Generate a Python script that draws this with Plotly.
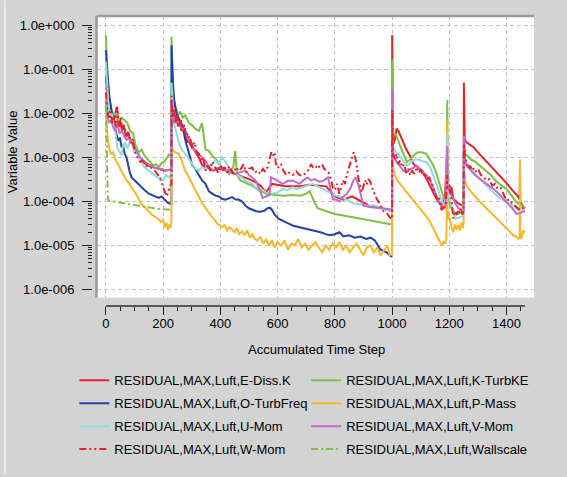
import plotly.graph_objects as go

# ---------------------------------------------------------------------------
# Residual history data: (accumulated time step, residual value)
# ---------------------------------------------------------------------------
E_DISS_K = [
    (0, 7e-2), (3, 3e-2), (8, 1.2e-2), (14, 8e-3), (20, 1.1e-2), (26, 6e-3), (32, 9e-3),
    (38, 1.4e-2), (44, 5e-3), (50, 7e-3), (56, 4e-3), (62, 5.5e-3), (70, 3e-3), (78, 3.8e-3),
    (86, 2.2e-3), (94, 2.6e-3), (102, 1.6e-3), (112, 1.2e-3), (122, 9e-4), (134, 7.5e-4),
    (148, 6.5e-4), (165, 6e-4), (185, 5.5e-4), (205, 5e-4), (220, 5.2e-4), (228, 5.5e-4),
    (229, 5.5e-4), (229.5, 3e-2), (234, 1.2e-2), (240, 6e-3), (246, 9e-3), (252, 5e-3),
    (258, 7e-3), (264, 4e-3), (270, 5e-3), (278, 3e-3), (286, 2.2e-3), (295, 2.6e-3),
    (305, 1.6e-3), (315, 1.3e-3), (325, 1e-3), (335, 7e-4), (348, 5.5e-4), (360, 6e-4),
    (375, 5e-4), (390, 5.5e-4), (405, 5.5e-4), (420, 5e-4), (440, 4.5e-4), (460, 4e-4),
    (480, 3.6e-4), (500, 3.2e-4), (520, 2.8e-4), (540, 2.3e-4), (560, 1.6e-4), (580, 2.5e-4),
    (600, 2.4e-4), (625, 2.2e-4), (650, 2.2e-4), (680, 2.2e-4), (710, 2.4e-4), (740, 2.3e-4),
    (770, 2.2e-4), (800, 1.3e-4), (830, 1.1e-4), (860, 1.3e-4), (890, 1e-4), (920, 8e-5),
    (950, 7.5e-5), (980, 6.5e-5), (999, 6e-5),
    (1000, 6e-5), (1000.5, 6e-1), (1004, 2e-3), (1010, 2.5e-3), (1016, 4.5e-3), (1022, 4e-3),
    (1030, 3e-3), (1040, 2e-3), (1050, 1.5e-3), (1062, 1.1e-3), (1075, 7e-4), (1090, 6e-4),
    (1105, 5e-4), (1121, 3.2e-4), (1135, 2.2e-4), (1144, 1.6e-4), (1161, 1e-4), (1173, 8e-5),
    (1185, 1.4e-4), (1193, 1.5e-3), (1194, 2.5e-4), (1200, 2.3e-4), (1208, 2e-4),
    (1214, 1.15e-4), (1231, 9e-5), (1246, 8e-5), (1250, 7e-5),
    (1251, 5e-2), (1251.5, 3e-3), (1254, 2.5e-3), (1260, 2.2e-3), (1270, 2e-3), (1285, 1.7e-3),
    (1300, 1.3e-3), (1320, 9.5e-4), (1340, 7e-4), (1360, 5e-4), (1380, 3.6e-4), (1400, 2.6e-4),
    (1420, 1.8e-4), (1440, 1.3e-4), (1446, 1.1e-4), (1447, 7e-4), (1448, 1e-4), (1455, 8e-5),
    (1465, 7e-5),
]

K_TURBKE = [
    (0, 6e-1), (2, 3e-1), (6, 6e-2), (12, 2e-2), (20, 1.2e-2), (28, 9e-3), (36, 1e-2),
    (45, 7e-3), (55, 8e-3), (65, 7e-3), (75, 6e-3), (85, 4e-3), (95, 3.5e-3), (105, 1.8e-3),
    (115, 1.3e-3), (125, 1.5e-3), (135, 1.1e-3), (145, 9e-4), (155, 8e-4), (165, 6.5e-4),
    (175, 7e-4), (185, 6e-4), (195, 7.5e-4), (205, 8e-4), (215, 1e-3), (222, 1.2e-3), (228, 1e-3),
    (229, 1e-3), (229.5, 5.5e-1), (232, 8e-2), (238, 2e-2), (245, 1.3e-2), (252, 9e-3),
    (260, 1.1e-2), (268, 8e-3), (278, 9e-3), (290, 6e-3), (300, 5.5e-3), (312, 4.5e-3),
    (325, 4e-3), (336, 6e-3), (348, 1.5e-3), (360, 1.4e-3), (371, 1.1e-3), (385, 9e-4),
    (406, 6e-4), (418, 5e-4), (430, 4.2e-4), (445, 6e-4), (452, 1.4e-3), (458, 4e-4),
    (470, 3e-4), (490, 2.6e-4), (510, 2.3e-4), (530, 1.9e-4), (560, 1.5e-4), (590, 1.4e-4),
    (620, 1.35e-4), (650, 1.4e-4), (680, 1.35e-4), (700, 1.5e-4), (712, 1.7e-4), (725, 1.1e-4),
    (740, 7e-5), (770, 6e-5), (800, 5.2e-5), (830, 4.8e-5), (870, 4.3e-5), (910, 3.8e-5),
    (950, 3.4e-5), (999, 3e-5),
    (1000, 3e-5), (1000.5, 1.7e-1), (1003, 3e-3), (1010, 3.6e-3), (1020, 2.6e-3), (1030, 1.7e-3),
    (1042, 1.1e-3), (1052, 7.8e-4), (1063, 9e-4), (1075, 1.1e-3), (1090, 1.3e-3), (1105, 1.3e-3),
    (1120, 1.2e-3), (1135, 8.5e-4), (1145, 6.5e-4), (1158, 3.8e-4), (1168, 2.3e-4),
    (1181, 1.15e-4), (1189, 1.2e-4), (1193, 2e-2), (1194, 1.5e-4), (1202, 8e-5), (1215, 6e-5),
    (1225, 5e-5), (1235, 5.3e-5), (1245, 5.8e-5), (1250, 6e-5),
    (1251, 1.5e-3), (1256, 1.2e-3), (1262, 1.1e-3), (1275, 9e-4), (1290, 8e-4), (1307, 6.5e-4),
    (1325, 5e-4), (1345, 4e-4), (1365, 2.8e-4), (1385, 2.2e-4), (1400, 1.9e-4), (1420, 1.3e-4),
    (1435, 9.5e-5), (1447, 8.5e-5), (1458, 7.5e-5), (1465, 7e-5),
]

O_TURBFREQ = [
    (0, 2.7e-1), (2, 1.5e-1), (5, 8e-2), (8, 5e-2), (12, 2.5e-2), (16, 1.5e-2), (20, 1.1e-2),
    (25, 7e-3), (31, 5e-3), (37, 3.5e-3), (43, 2.4e-3), (49, 2.8e-3), (55, 1.7e-3), (60, 1.9e-3),
    (66, 1.2e-3), (72, 1e-3), (78, 6e-4), (84, 4.5e-4), (90, 3.5e-4), (100, 3e-4), (113, 2.5e-4),
    (125, 2.1e-4), (136, 1.8e-4), (150, 1.5e-4), (160, 1.4e-4), (171, 1.35e-4), (185, 1.2e-4),
    (195, 1.3e-4), (206, 1.1e-4), (215, 9.5e-5), (223, 9e-5), (228, 8.8e-5),
    (229, 8.8e-5), (229.5, 3.5e-1), (232, 1e-1), (236, 3e-2), (241, 1.5e-2), (247, 1e-2),
    (254, 8e-3), (261, 6.5e-3), (268, 5e-3), (278, 2.4e-3), (290, 1.2e-3), (301, 7e-4),
    (312, 5.5e-4), (324, 4e-4), (336, 3e-4), (348, 2.5e-4), (360, 1.7e-4), (372, 1.5e-4),
    (383, 1.35e-4), (395, 1.3e-4), (406, 1.15e-4), (418, 1.1e-4), (430, 1.2e-4), (441, 1.25e-4),
    (453, 1.1e-4), (464, 1.1e-4), (476, 1e-4), (488, 8e-5), (500, 7e-5), (511, 6.5e-5),
    (525, 6e-5), (540, 5.8e-5), (555, 6.2e-5), (565, 7e-5), (573, 7.2e-5), (580, 6.5e-5),
    (590, 5e-5), (605, 4e-5), (618, 3.6e-5), (635, 3.2e-5), (655, 2.8e-5), (676, 2.6e-5),
    (700, 2.3e-5), (725, 2.1e-5), (750, 2e-5), (781, 1.7e-5), (800, 1.8e-5), (816, 2e-5),
    (830, 1.6e-5), (850, 1.7e-5), (870, 1.5e-5), (890, 1.6e-5), (910, 1.4e-5), (925, 1.5e-5),
    (940, 1.3e-5), (960, 8e-6), (980, 7e-6), (999, 5.5e-6),
]

P_MASS = [
    (0, 1e-2), (3, 5e-3), (7, 2.5e-3), (12, 1.6e-3), (18, 1.2e-3), (25, 1.3e-3), (33, 9e-4),
    (43, 6.9e-4), (55, 4.8e-4), (66, 3.5e-4), (78, 2.7e-4), (90, 2.1e-4), (105, 1.5e-4),
    (124, 8.7e-5), (140, 7e-5), (159, 5.1e-5), (170, 4.5e-5), (183, 4e-5), (192, 3.4e-5),
    (200, 3.8e-5), (206, 2.6e-5), (212, 3.3e-5), (217, 2.2e-5), (222, 3e-5), (226, 2.5e-5),
    (228, 3.6e-5),
    (229, 3.6e-5), (229.5, 1.2e-3), (234, 1.5e-3), (242, 1.3e-3), (255, 1.2e-3), (266, 8e-4),
    (278, 4.9e-4), (290, 3.5e-4), (301, 2.5e-4), (313, 1.8e-4), (325, 1.2e-4), (337, 9e-5),
    (348, 7.2e-5), (360, 5.5e-5), (371, 4.4e-5), (380, 3.8e-5), (389, 3.1e-5), (398, 2.9e-5),
    (406, 2.6e-5), (415, 2.9e-5), (424, 2.2e-5), (432, 2.6e-5), (441, 2.3e-5), (450, 2e-5),
    (458, 2.5e-5), (466, 1.8e-5), (476, 2.1e-5), (485, 1.7e-5), (494, 2.2e-5), (503, 1.5e-5),
    (511, 1.8e-5), (520, 1.4e-5), (530, 1.3e-5), (540, 1.6e-5), (550, 1.1e-5), (560, 1.4e-5),
    (570, 1e-5), (580, 1.3e-5), (590, 9e-6), (600, 1.2e-5), (612, 1e-5), (624, 1.3e-5),
    (636, 8e-6), (648, 1.1e-5), (660, 1e-5), (672, 1.4e-5), (684, 9e-6), (696, 1.1e-5),
    (708, 8e-6), (720, 1e-5), (732, 1.2e-5), (744, 9e-6), (756, 7e-6), (768, 1e-5), (780, 8e-6),
    (792, 1.1e-5), (804, 9e-6), (816, 1.2e-5), (828, 8e-6), (840, 1e-5), (852, 7e-6), (864, 9e-6),
    (876, 1.1e-5), (888, 8e-6), (900, 6e-6), (912, 9e-6), (924, 1e-5), (936, 7e-6), (948, 9e-6),
    (960, 6e-6), (972, 8e-6), (984, 1e-5), (992, 6e-6), (999, 6.5e-6),
    (1000, 6.5e-6), (1000.5, 1.2e-3), (1003, 6e-4), (1010, 3.9e-4), (1020, 2.9e-4),
    (1030, 2.4e-4), (1040, 2e-4), (1051, 1.6e-4), (1062, 1.3e-4), (1074, 1.05e-4),
    (1086, 8.5e-5), (1097, 6.9e-5), (1108, 5.5e-5), (1120, 4.5e-5), (1132, 3.5e-5),
    (1144, 2.5e-5), (1156, 1.7e-5), (1165, 1.3e-5), (1173, 1e-5), (1180, 1.2e-5), (1186, 1.1e-5),
    (1190, 1.5e-5), (1193, 7e-3), (1194, 6e-5), (1198, 4e-5), (1202, 4.1e-5), (1208, 2.5e-5),
    (1214, 2e-5), (1220, 3e-5), (1226, 2.3e-5), (1231, 2.9e-5), (1237, 2.2e-5), (1243, 3.3e-5),
    (1248, 2.5e-5), (1250, 3.5e-5),
    (1251, 6e-4), (1255, 3e-4), (1260, 2.3e-4), (1275, 1.7e-4), (1290, 1.3e-4), (1307, 9.8e-5),
    (1325, 7.5e-5), (1340, 6e-5), (1354, 4.9e-5), (1370, 3.7e-5), (1385, 3e-5), (1400, 2.5e-5),
    (1412, 2e-5), (1424, 1.7e-5), (1435, 1.6e-5), (1441, 1.4e-5), (1446, 1.5e-5), (1447, 9e-4),
    (1448, 1.8e-5), (1452, 1.4e-5), (1458, 2.2e-5), (1465, 2e-5),
]

U_MOM = [
    (0, 1.5e-1), (2, 8e-2), (5, 3e-2), (9, 1.5e-2), (14, 9e-3), (20, 1e-2), (27, 6e-3),
    (34, 3.5e-3), (40, 1.6e-3), (47, 1.4e-3), (54, 1.1e-3), (60, 1.8e-3), (67, 2.2e-3),
    (75, 1.6e-3), (83, 2.2e-3), (90, 2.3e-3), (98, 1.4e-3), (110, 1.2e-3), (122, 8e-4),
    (135, 6e-4), (150, 5e-4), (165, 4.2e-4), (180, 3.5e-4), (192, 3.4e-4), (200, 3e-4),
    (210, 4e-4), (220, 3.5e-4), (228, 4.5e-4),
    (229, 4.5e-4), (229.5, 5e-2), (233, 1.5e-2), (238, 6e-3), (245, 4e-3), (252, 2.5e-3),
    (260, 1.8e-3), (268, 1.4e-3), (278, 1.2e-3), (290, 9e-4), (301, 7e-4), (313, 5.5e-4),
    (325, 5e-4), (336, 6e-4), (348, 5.5e-4), (360, 6.5e-4), (372, 7.5e-4), (383, 8.5e-4),
    (395, 7e-4), (406, 1e-3), (418, 8e-4), (430, 5.9e-4), (441, 5e-4), (453, 4.2e-4),
    (464, 3.8e-4), (476, 3.5e-4), (488, 2.9e-4), (500, 2.7e-4), (512, 2.5e-4), (523, 2.1e-4),
    (540, 2e-4), (560, 1.6e-4), (580, 1.5e-4), (600, 1.6e-4), (618, 1.9e-4), (635, 1.8e-4),
    (653, 2.1e-4), (665, 1.9e-4), (676, 2e-4), (690, 2.2e-4), (705, 2.3e-4), (723, 2.5e-4),
    (740, 2.2e-4), (758, 1.9e-4), (775, 1.7e-4), (790, 1.5e-4), (804, 1.35e-4), (818, 1.3e-4),
    (840, 1.1e-4), (865, 9e-5), (888, 8.7e-5), (910, 8e-5), (935, 8.2e-5), (960, 7e-5),
    (980, 6.5e-5), (999, 6e-5),
    (1000, 6e-5), (1000.5, 2e-2), (1003, 2e-3), (1008, 1.5e-3), (1016, 1.3e-3), (1025, 1.1e-3),
    (1035, 9e-4), (1045, 7.5e-4), (1051, 6.5e-4), (1060, 7e-4), (1072, 8.5e-4), (1086, 9.1e-4),
    (1100, 8.5e-4), (1112, 8e-4), (1121, 7.8e-4), (1133, 6e-4), (1144, 3.9e-4), (1155, 2.5e-4),
    (1167, 1.4e-4), (1175, 1e-4), (1181, 8e-5), (1188, 9e-5), (1193, 3.6e-3), (1194, 1.5e-4),
    (1198, 1.3e-4), (1202, 1.15e-4), (1210, 7e-5), (1220, 4.1e-5), (1232, 4.2e-5),
    (1243, 4.5e-5), (1250, 4.8e-5),
    (1251, 3e-3), (1255, 9e-4), (1260, 7.8e-4), (1275, 5.5e-4), (1290, 4.2e-4), (1310, 3.2e-4),
    (1330, 2.3e-4), (1355, 1.6e-4), (1377, 1.15e-4), (1400, 9.5e-5), (1423, 8e-5),
    (1440, 6.5e-5), (1450, 6e-5), (1458, 5.7e-5), (1465, 6e-5),
]

V_MOM = [
    (0, 2e-2), (2, 1.5e-2), (6, 8e-3), (12, 6e-3), (18, 7e-3), (25, 5e-3), (32, 4e-3),
    (40, 6e-3), (48, 3.5e-3), (56, 4e-3), (64, 3e-3), (72, 2.5e-3), (80, 2.8e-3), (90, 2.2e-3),
    (100, 1.6e-3), (110, 1.3e-3), (120, 1e-3), (135, 8e-4), (150, 7e-4), (165, 6e-4),
    (180, 5.5e-4), (195, 5.5e-4), (210, 5e-4), (220, 5.2e-4), (228, 5e-4),
    (229, 5e-4), (229.5, 2e-2), (233, 1e-2), (240, 6e-3), (250, 7e-3), (260, 5e-3),
    (270, 4.5e-3), (278, 4e-3), (290, 2.5e-3), (301, 1.7e-3), (313, 1.4e-3), (325, 1.2e-3),
    (336, 1e-3), (348, 8.3e-4), (360, 6e-4), (371, 5e-4), (383, 5.5e-4), (395, 5.9e-4),
    (406, 6e-4), (418, 5e-4), (430, 5.2e-4), (441, 4.5e-4), (453, 4.2e-4), (465, 4.5e-4),
    (476, 4.6e-4), (488, 5e-4), (500, 4e-4), (512, 3.5e-4), (523, 3e-4), (535, 2e-4),
    (548, 1.2e-4), (560, 1.3e-4), (572, 1.4e-4), (577, 3.5e-4), (590, 3.2e-4), (605, 2.8e-4),
    (618, 2.5e-4), (635, 2.9e-4), (653, 3e-4), (665, 2.7e-4), (676, 2.5e-4), (690, 3e-4),
    (705, 3.5e-4), (717, 3e-4), (729, 3.2e-4), (745, 2.8e-4), (758, 2.9e-4), (770, 3.3e-4),
    (776, 3.5e-4), (785, 2e-4), (793, 1.1e-4), (805, 1.1e-4), (816, 1e-4), (830, 1.3e-4),
    (842, 1.5e-4), (855, 2e-4), (865, 3e-4), (873, 3.5e-4), (882, 2.5e-4), (890, 1.5e-4),
    (900, 8e-5), (920, 7.5e-5), (935, 7.2e-5), (960, 7e-5), (980, 6.8e-5), (999, 6.5e-5),
    (1000, 6.5e-5), (1000.5, 3.5e-2), (1003, 1.5e-3), (1008, 1e-3), (1016, 7.8e-4),
    (1030, 6e-4), (1040, 5e-4), (1051, 4.6e-4), (1060, 5.2e-4), (1072, 5.7e-4), (1086, 6.5e-4),
    (1100, 5e-4), (1110, 4.4e-4), (1121, 3.9e-4), (1135, 2.8e-4), (1146, 1.9e-4),
    (1156, 1.4e-4), (1166, 9e-5), (1172, 7.5e-5), (1179, 6.9e-5), (1186, 8e-5), (1193, 1.8e-3),
    (1194, 2e-4), (1198, 1.8e-4), (1202, 1.6e-4), (1212, 1.2e-4), (1225, 8.1e-5),
    (1236, 6.5e-5), (1246, 5.7e-5), (1250, 5.5e-5),
    (1251, 3e-3), (1256, 8e-4), (1260, 6.5e-4), (1275, 5e-4), (1290, 4e-4), (1307, 3.2e-4),
    (1330, 2.5e-4), (1354, 1.95e-4), (1377, 1.4e-4), (1400, 9.8e-5), (1420, 7e-5),
    (1435, 5.2e-5), (1450, 5.5e-5), (1464, 6.3e-5),
]

W_MOM = [
    (0, 3e-2), (2, 2e-2), (6, 1e-2), (10, 8e-3), (16, 1.2e-2), (22, 6e-3), (28, 9e-3),
    (35, 5e-3), (40, 1.4e-2), (46, 5e-3), (52, 8e-3), (58, 4e-3), (65, 5e-3), (72, 3e-3),
    (80, 3.5e-3), (88, 2e-3), (95, 2.2e-3), (102, 1.3e-3), (110, 1e-3), (120, 8e-4),
    (130, 8.5e-4), (140, 6.5e-4), (155, 6e-4), (170, 5e-4), (182, 4e-4), (192, 3e-4),
    (200, 2.2e-4), (206, 1.8e-4), (212, 1.3e-4), (218, 1.6e-4), (223, 2.2e-4), (228, 2.5e-4),
    (229, 2.5e-4), (229.5, 2.5e-2), (233, 8e-3), (238, 1.2e-2), (244, 6e-3), (250, 9e-3),
    (256, 5e-3), (262, 7e-3), (268, 4e-3), (274, 5.5e-3), (280, 3e-3), (287, 3.5e-3),
    (294, 2e-3), (301, 1.7e-3), (310, 2.2e-3), (318, 1.3e-3), (325, 1.2e-3), (333, 8e-4),
    (340, 1e-3), (348, 5e-4), (356, 7e-4), (364, 5e-4), (372, 8e-4), (383, 5.8e-4),
    (392, 4.5e-4), (400, 6.5e-4), (406, 4.9e-4), (415, 6e-4), (424, 4.5e-4), (430, 6.3e-4),
    (438, 5e-4), (446, 4.2e-4), (455, 6e-4), (464, 4.9e-4), (472, 5.5e-4), (481, 7e-4),
    (490, 4.5e-4), (500, 5.5e-4), (511, 5.9e-4), (520, 4.5e-4), (530, 5e-4), (540, 4.2e-4),
    (548, 5.5e-4), (556, 4.8e-4), (565, 6e-4), (572, 1e-3), (578, 1.3e-3), (584, 1.1e-3),
    (590, 1.3e-3), (595, 6e-4), (603, 5.9e-4), (612, 7e-4), (620, 5e-4), (630, 4e-4),
    (640, 4.5e-4), (653, 4e-4), (665, 4.8e-4), (676, 4e-4), (688, 3.8e-4), (700, 4.5e-4),
    (711, 5.5e-4), (717, 7e-4), (723, 6e-4), (732, 6.5e-4), (740, 5.5e-4), (746, 6.2e-4),
    (755, 7e-4), (763, 5.5e-4), (770, 5.1e-4), (778, 4.5e-4), (786, 3.2e-4), (793, 2.1e-4),
    (800, 1.8e-4), (808, 2.5e-4), (816, 1.5e-4), (822, 2.2e-4), (828, 3e-4), (836, 2.5e-4),
    (842, 4e-4), (850, 6e-4), (856, 8e-4), (860, 1.1e-3), (866, 1.3e-3), (871, 1e-3),
    (876, 7e-4), (882, 3.5e-4), (888, 2.2e-4), (894, 1.6e-4), (900, 2.2e-4), (906, 3e-4),
    (911, 2.4e-4), (917, 3.2e-4), (923, 2.9e-4), (929, 2.2e-4), (935, 1.7e-4), (945, 1.2e-4),
    (958, 8e-5), (970, 6e-5), (981, 5.5e-5), (990, 4.5e-5), (999, 4e-5),
    (1000, 4e-5), (1000.5, 1.2e-2), (1003, 1.2e-3), (1010, 9.1e-4), (1016, 1.2e-3),
    (1022, 7e-4), (1028, 8.5e-4), (1035, 6e-4), (1042, 7e-4), (1050, 4.5e-4), (1057, 5.5e-4),
    (1063, 3.9e-4), (1070, 5e-4), (1078, 4.2e-4), (1086, 6e-4), (1093, 4.5e-4), (1100, 5.2e-4),
    (1108, 3.8e-4), (1115, 4.5e-4), (1121, 3.2e-4), (1130, 3.5e-4), (1140, 2.4e-4),
    (1150, 1.6e-4), (1156, 1.15e-4), (1163, 1.3e-4), (1168, 8e-5), (1173, 6.3e-5), (1178, 8e-5),
    (1183, 7e-5), (1188, 9e-5), (1193, 4e-4), (1194, 2.2e-4), (1198, 1.8e-4), (1202, 1.95e-4),
    (1207, 1.2e-4), (1214, 4.1e-5), (1220, 6e-5), (1226, 5e-5), (1232, 6.5e-5), (1237, 5.4e-5),
    (1242, 7e-5), (1246, 5e-5), (1250, 6e-5),
    (1251, 2e-3), (1255, 1e-3), (1260, 7.8e-4), (1266, 5.5e-4), (1273, 6.5e-4), (1280, 5e-4),
    (1287, 5.8e-4), (1295, 4.5e-4), (1303, 5e-4), (1311, 3.9e-4), (1320, 3.6e-4), (1330, 3e-4),
    (1340, 3.2e-4), (1350, 2.3e-4), (1360, 2.5e-4), (1370, 1.9e-4), (1380, 2e-4), (1390, 1.4e-4),
    (1400, 1.05e-4), (1410, 1.1e-4), (1420, 9e-5), (1430, 8e-5), (1440, 7e-5), (1447, 6.3e-5),
    (1455, 7e-5), (1465, 6.5e-5),
]

WALLSCALE = [
    (0, 1.5e-2), (1, 8e-3), (2, 3e-3), (3, 1.2e-3), (4, 5e-4), (5, 2e-4), (7, 1.1e-4),
    (10, 1.05e-4), (30, 9.8e-5), (60, 9.2e-5), (90, 8.5e-5), (120, 7.8e-5), (150, 7.2e-5),
    (180, 6.8e-5), (205, 6.6e-5), (228, 6.5e-5),
]

SERIES_LABELS = [
    "RESIDUAL,MAX,Luft,E-Diss.K", "RESIDUAL,MAX,Luft,K-TurbKE",
    "RESIDUAL,MAX,Luft,O-TurbFreq", "RESIDUAL,MAX,Luft,P-Mass",
    "RESIDUAL,MAX,Luft,U-Mom", "RESIDUAL,MAX,Luft,V-Mom",
    "RESIDUAL,MAX,Luft,W-Mom", "RESIDUAL,MAX,Luft,Wallscale",
]
SERIES_DATA = [E_DISS_K, K_TURBKE, O_TURBFREQ, P_MASS, U_MOM, V_MOM, W_MOM, WALLSCALE]

X_TICKS = [0, 200, 400, 600, 800, 1000, 1200, 1400]
Y_TICKS = [1e0, 1e-1, 1e-2, 1e-3, 1e-4, 1e-5, 1e-6]
Y_TICK_TEXT = ["1.0e+000", "1.0e-001", "1.0e-002", "1.0e-003", "1.0e-004", "1.0e-005", "1.0e-006"]
X_TITLE = "Accumulated Time Step"
Y_TITLE = "Variable Value"

# ---------------------------------------------------------------------------
# Styling
# ---------------------------------------------------------------------------
RED = "#e8202a"
GREEN = "#7cc242"
STYLES = [
    dict(color=RED, dash="solid"),
    dict(color=GREEN, dash="solid"),
    dict(color="#2341a6", dash="solid"),
    dict(color="#fbb52b", dash="solid"),
    dict(color="#93dada", dash="solid"),
    dict(color="#c26cc8", dash="solid"),
    dict(color=RED, dash="7px,3px,2px,3px,2px,3px"),
    dict(color=GREEN, dash="7px,3px,2px,3px"),
]
# left legend column / right legend column
LEGEND_OF = ["legend", "legend2", "legend", "legend2", "legend", "legend2", "legend", "legend2"]

FONT = "Liberation Sans, Arial, sans-serif"
W_PX, H_PX = 567, 477
# margin box: y-axis line on the left edge, x-axis line on the bottom edge
L, R, T, B = 91.7, 534.0, 15.7, 307.7
PW, PH = R - L, B - T


def fx(px):
    return (px - L) / PW


def fy(py):
    return (B - py) / PH


fig = go.Figure()
for label, data, style, leg in zip(SERIES_LABELS, SERIES_DATA, STYLES, LEGEND_OF):
    fig.add_trace(go.Scatter(
        x=[p[0] for p in data],
        y=[p[1] for p in data],
        mode="lines",
        name=label,
        legend=leg,
        legendgroup=label,
        line=dict(color=style["color"], dash=style["dash"], width=2),
        hoverinfo="skip",
    ))

minor_y = [k * 10.0 ** e for e in range(-6, 0) for k in range(2, 10)]
grid_col = "#c4c4c4"

fig.update_layout(
    width=W_PX, height=H_PX,
    margin=dict(l=L, r=W_PX - R, t=T, b=H_PX - B, pad=0),
    paper_bgcolor="#d3d3d3",
    plot_bgcolor="#ffffff",
    font=dict(family=FONT, size=13, color="#000000"),
    showlegend=True,
    xaxis=dict(
        domain=[fx(96.7), 1.0], anchor="free", position=0.0,
        range=[-31, 1496], showline=False, zeroline=False,
        tickmode="array", tickvals=X_TICKS, ticks="outside", ticklen=8,
        tickcolor="#202020", tickwidth=1.3,
        showgrid=True, gridcolor=grid_col, griddash="4px,3px", gridwidth=1,
        tickfont=dict(family=FONT, size=13), ticklabelstandoff=-3,
        minor=dict(dtick=50, tick0=0, ticks="outside", ticklen=4, tickcolor="#202020",
                   tickwidth=1.3, showgrid=False),
    ),
    yaxis=dict(
        type="log", domain=[fy(299.3), 1.0], anchor="free", position=0.0,
        range=[-6.185, 0.21], showline=False, zeroline=False,
        tickmode="array", tickvals=Y_TICKS, ticktext=Y_TICK_TEXT,
        ticks="outside", ticklen=10, tickcolor="#202020", tickwidth=1.3,
        showgrid=True, gridcolor=grid_col, griddash="4px,3px", gridwidth=1,
        tickfont=dict(family=FONT, size=13), ticklabelstandoff=5,
        minor=dict(tickmode="array", tickvals=minor_y, ticks="outside", ticklen=4,
                   tickcolor="#202020", tickwidth=1.2, showgrid=False),
    ),
    legend=dict(
        x=fx(74), y=fy(367.5), xanchor="left", yanchor="top",
        bgcolor="rgba(0,0,0,0)", borderwidth=0, tracegroupgap=3,
        font=dict(family=FONT, size=13), itemclick=False, itemdoubleclick=False,
    ),
    legend2=dict(
        x=fx(306), y=fy(367.5), xanchor="left", yanchor="top",
        bgcolor="rgba(0,0,0,0)", borderwidth=0, tracegroupgap=3,
        font=dict(family=FONT, size=13), itemclick=False, itemdoubleclick=False,
    ),
)

# axis lines (y: from 1e0 to 1e-6, x: from 0 to the last step) and panel frame
shapes = [
    dict(type="line", xref="paper", yref="y", x0=0, x1=0, y0=0, y1=-6,
         line=dict(color="#303030", width=1.5)),
    dict(type="line", xref="x", yref="paper", x0=0, x1=1464, y0=0, y1=0,
         line=dict(color="#303030", width=1.5)),
    dict(type="line", xref="paper", yref="paper", x0=fx(96.2), x1=1, y0=1, y1=1,
         line=dict(color="#9a9a9a", width=2.5)),
    dict(type="line", xref="paper", yref="paper", x0=fx(96.2), x1=fx(96.2), y0=fy(299.3), y1=1,
         line=dict(color="#9a9a9a", width=2.5)),
    dict(type="line", xref="paper", yref="paper", x0=fx(4.5), x1=fx(4.5), y0=fy(0), y1=fy(477),
         line=dict(color="#f2f2f2", width=1.5)),
]
fig.update_layout(shapes=shapes)

fig.add_annotation(text=X_TITLE, xref="paper", yref="paper", x=fx(316), y=fy(351),
                   xanchor="center", yanchor="middle", showarrow=False,
                   font=dict(family=FONT, size=13))
fig.add_annotation(text=Y_TITLE, xref="paper", yref="paper", x=fx(12.5), y=fy(152),
                   xanchor="center", yanchor="middle", showarrow=False, textangle=-90,
                   font=dict(family=FONT, size=13))

fig.write_html("out.html")
